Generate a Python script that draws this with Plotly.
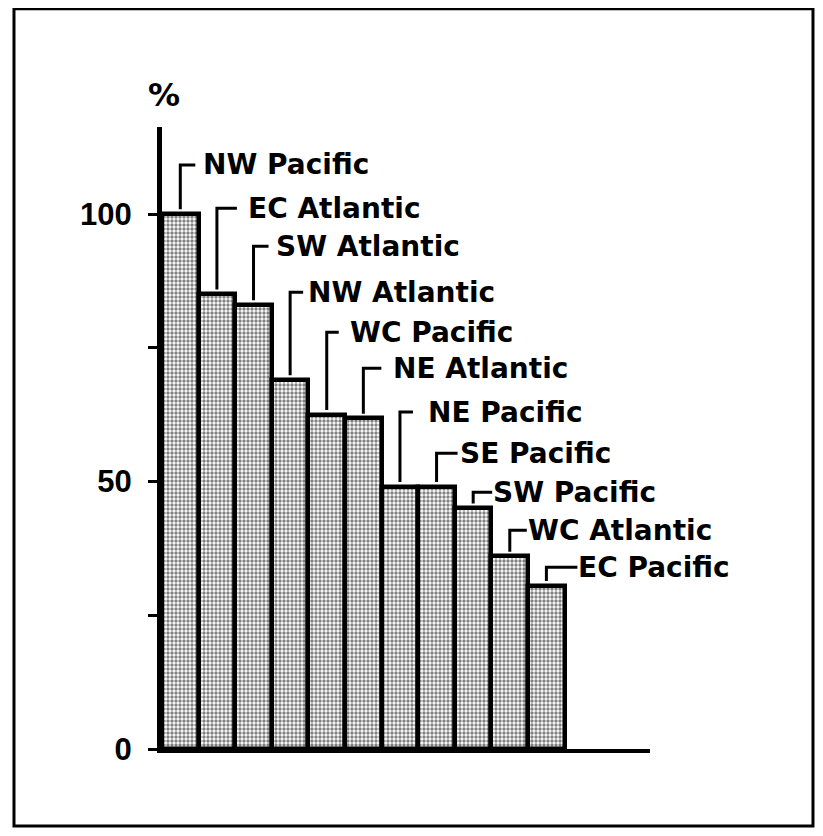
import plotly.graph_objects as go

# ---- data ----
regions = ["NW Pacific", "EC Atlantic", "SW Atlantic", "NW Atlantic", "WC Pacific",
           "NE Atlantic", "NE Pacific", "SE Pacific", "SW Pacific", "WC Atlantic", "EC Pacific"]
percent = [100, 85, 83, 69, 62.5, 61.8, 49, 49, 45, 36, 30.5]
y_ticks = [0, 25, 50, 75, 100]
y_tick_labels = ["0", "", "50", "", "100"]

# ---- callout layout (label rows in data units, offsets in px) ----
label_y = [109.2, 101.1, 94.0, 85.4, 77.9, 71.2, 63.0, 55.3, 48.0, 40.9, 34.0]
bracket_px = [15, 20, 15, 13, 12, 18, 13, 21, 19, 17, 31]
text_px = [23, 31, 22, 18, 23, 30, 28, 23, 20, 18, 32]

X_RANGE = [-0.5, 12.83]
Y_RANGE = [0, 116.3]
PLOT_W = 488
PX_PER_X = PLOT_W / (X_RANGE[1] - X_RANGE[0])

xs = list(range(len(regions)))

fig = go.Figure()
fig.add_trace(go.Bar(
    x=xs, y=percent, width=1, customdata=regions,
    hovertemplate="%{customdata}: %{y}%<extra></extra>",
    marker=dict(color="white",
                line=dict(color="black", width=4.5),
                pattern=dict(shape=".", fgcolor="black", bgcolor="white", size=4, solidity=0.55)),
))

bx, by = [], []
for i, (v, ly, b) in enumerate(zip(percent, label_y, bracket_px)):
    bx += [i, i, i + b / PX_PER_X, None]
    by += [v + 0.9, ly, ly, None]
fig.add_trace(go.Scatter(x=bx, y=by, mode="lines", line=dict(color="black", width=3),
                         hoverinfo="skip"))

label_font = dict(family="DejaVu Sans, Liberation Sans, Arial", size=28, color="black", weight="bold")
annotations = []
for i, (name, ly, t) in enumerate(zip(regions, label_y, text_px)):
    annotations.append(dict(x=i + t / PX_PER_X, y=ly, xref="x", yref="y", text=name,
                            showarrow=False, xanchor="left", yanchor="middle",
                            xshift=-2, font=label_font))
annotations.append(dict(x=0.004, y=1.0514, xref="paper", yref="paper", text="%", showarrow=False,
                        xanchor="center", yanchor="middle",
                        font=dict(family="DejaVu Sans, Liberation Sans, Arial", size=32,
                                  color="black", weight="bold")))

fig.update_layout(
    width=807, height=820,
    margin=dict(l=154, r=165, t=119, b=79, pad=0),
    paper_bgcolor="white", plot_bgcolor="white",
    showlegend=False, bargap=0,
    annotations=annotations,
    shapes=[dict(type="rect", xref="paper", yref="paper",
                 x0=-0.3033, x1=1.334, y0=-0.1238, y1=1.190,
                 line=dict(color="black", width=3))],
    xaxis=dict(range=X_RANGE, showticklabels=False, ticks="", showgrid=False, zeroline=False,
               showline=True, linecolor="black", linewidth=4),
    yaxis=dict(range=Y_RANGE, tickvals=y_ticks, ticktext=y_tick_labels, ticks="outside",
               ticklen=9, tickwidth=3, tickcolor="black", showgrid=False, zeroline=False,
               showline=True, linecolor="black", linewidth=5, ticklabelstandoff=10,
               tickfont=dict(family="Liberation Sans, Arial", size=31, color="black",
                             weight="bold")),
)

fig.write_html("out.html")
